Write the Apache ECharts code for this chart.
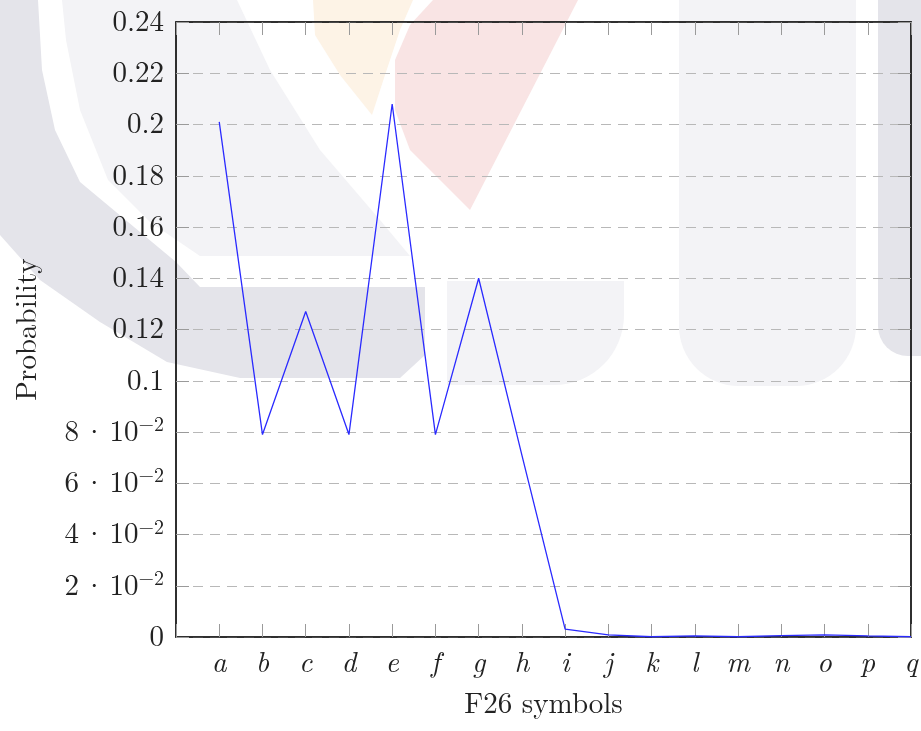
<!DOCTYPE html>
<html>
<head>
<meta charset="utf-8">
<script src="https://cdn.jsdelivr.net/npm/echarts@6/dist/echarts.min.js"></script>
<style>
  html, body { margin: 0; padding: 0; background: #fff; }
  #chart { width: 921px; height: 731px; }
</style>
</head>
<body>
<div id="chart"></div>
<script>
// F26 symbol probabilities
var symbols = ['a', 'b', 'c', 'd', 'e', 'f', 'g', 'h', 'i', 'j', 'k', 'l', 'm', 'n', 'o', 'p', 'q'];
var probs = [0.201, 0.079, 0.127, 0.079, 0.208, 0.079, 0.140, 0.071, 0.0031, 0.0008, 0.0001, 0.0004, 0.0001, 0.0005, 0.0008, 0.0004, 0.0001];
var yTicks = [0, 0.02, 0.04, 0.06, 0.08, 0.1, 0.12, 0.14, 0.16, 0.18, 0.2, 0.22, 0.24];

var serif = '"Latin Modern Roman", "Liberation Serif", "DejaVu Serif", serif';
var tickGray = '#9a9a9a';

var chart = echarts.init(document.getElementById('chart'));

function yLabel(v) {
    var hundredths = Math.round(v * 100);
    if (hundredths === 0) return '{n|0}';
    if (hundredths >= 10) return '{n|' + (hundredths / 100) + '}';
    return '{n|' + hundredths + '}{d|·}{n|10}{s|−2}';
}

var lineData = probs.map(function (p, i) { return [i, p]; });

// faint watermark (logo) behind the plot
var bgDark = '#e4e4ea', bgLight = '#f3f3f6';
var watermark = [
    { type: 'polygon', shape: { points: [[62, 0], [237, 0], [270, 70], [320, 150], [380, 220], [410, 256], [200, 256], [150, 222], [108, 180], [80, 110], [66, 40]] }, style: { fill: bgLight } },
    { type: 'polygon', shape: { points: [[0, 0], [38, 0], [42, 70], [55, 130], [80, 182], [140, 232], [176, 262], [200, 287], [425, 287], [425, 355], [400, 378], [240, 378], [167, 362], [100, 322], [40, 280], [0, 235]] }, style: { fill: bgDark } },
    { type: 'rect', shape: { x: 447, y: 281, width: 177, height: 104, r: [0, 0, 70, 0] }, style: { fill: bgLight } },
    { type: 'rect', shape: { x: 679, y: 0, width: 177, height: 386, r: [0, 0, 60, 60] }, style: { fill: bgLight } },
    { type: 'rect', shape: { x: 878, y: 0, width: 43, height: 356, r: [0, 0, 0, 30] }, style: { fill: bgDark } },
    { type: 'polygon', shape: { points: [[313, 0], [413, 0], [400, 30], [385, 75], [372, 115], [340, 75], [315, 35]] }, style: { fill: '#fdf3e6' } },
    { type: 'polygon', shape: { points: [[433, 0], [578, 0], [470, 210], [440, 180], [410, 150], [395, 110], [395, 60], [410, 25]] }, style: { fill: '#f9e4e4' } }
];
watermark.forEach(function (el) { el.z = -10; el.silent = true; });

option = {
    backgroundColor: '#fff',
    animation: false,
    graphic: { elements: watermark },
    grid: { left: 176, right: 10, top: 22, bottom: 94, show: true, borderColor: '#222', borderWidth: 1.5, backgroundColor: 'transparent' },
    xAxis: [
        {
            type: 'value',
            min: -1,
            max: 16,
            interval: 1,
            position: 'bottom',
            name: 'F26 symbols',
            nameLocation: 'middle',
            nameGap: 53,
            nameTextStyle: { fontFamily: serif, fontSize: 29, color: '#222' },
            axisLine: { onZero: false, lineStyle: { color: '#222', width: 1.5 } },
            axisTick: { inside: true, length: 13, lineStyle: { color: tickGray } },
            axisLabel: {
                margin: 12,
                fontFamily: serif,
                fontStyle: 'italic',
                fontSize: 29,
                color: '#222',
                formatter: function (v) { return symbols[v] || ''; }
            },
            splitLine: { show: false }
        },
        {
            type: 'value',
            min: -1,
            max: 16,
            interval: 1,
            position: 'top',
            axisLine: { onZero: false, lineStyle: { color: '#222', width: 1.5 } },
            axisTick: { inside: true, length: 13, lineStyle: { color: tickGray } },
            axisLabel: { show: false },
            splitLine: { show: false }
        }
    ],
    yAxis: [
        {
            type: 'value',
            min: 0,
            max: 0.24,
            interval: 0.02,
            position: 'left',
            name: 'Probability',
            nameLocation: 'middle',
            nameRotate: 90,
            nameGap: 134,
            nameTextStyle: { fontFamily: serif, fontSize: 29, color: '#222' },
            axisLine: { show: true, onZero: false, lineStyle: { color: '#222', width: 1.5 } },
            axisTick: { show: true, inside: true, length: 13, lineStyle: { color: tickGray } },
            axisLabel: {
                margin: 12,
                formatter: yLabel,
                rich: {
                    n: { fontFamily: serif, fontSize: 29, color: '#222' },
                    d: { fontFamily: serif, fontSize: 29, color: '#222', padding: [0, 4, 0, 4] },
                    s: { fontFamily: serif, fontSize: 20, color: '#222', padding: [0, 0, 14, 0] }
                }
            },
            splitLine: { show: true, lineStyle: { color: '#b8b8b8', type: [10, 7], width: 1 } }
        },
        {
            type: 'value',
            min: 0,
            max: 0.24,
            interval: 0.02,
            position: 'right',
            axisLine: { show: true, onZero: false, lineStyle: { color: '#222', width: 1.5 } },
            axisTick: { show: true, inside: true, length: 13, lineStyle: { color: tickGray } },
            axisLabel: { show: false },
            splitLine: { show: false }
        }
    ],
    series: [
        {
            type: 'line',
            data: lineData,
            showSymbol: false,
            symbol: 'none',
            lineStyle: { color: '#2a2aff', width: 1.3 }
        }
    ]
};

chart.setOption(option);
</script>
</body>
</html>
